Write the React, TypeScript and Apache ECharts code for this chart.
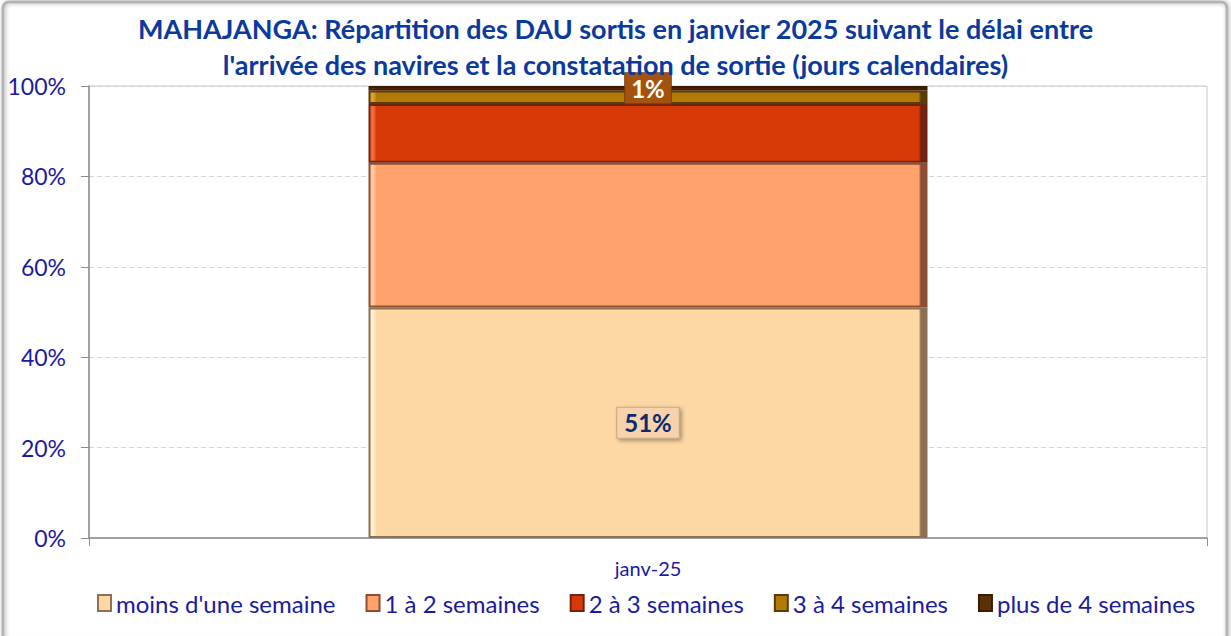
import React, { useEffect, useRef } from "react";
import * as echarts from "echarts";

const titleLines = [
  "MAHAJANGA: Répartition des DAU sortis en janvier 2025 suivant le délai entre",
  "l'arrivée des navires et la constatation de sortie (jours calendaires)",
];
const categories = ["janv-25"];
const seriesNames = [
  "moins d'une semaine",
  "1 à 2 semaines",
  "2 à 3 semaines",
  "3 à 4 semaines",
  "plus de 4 semaines",
];
const moinsUneSemaine = [51];
const unADeuxSemaines = [32];
const deuxATroisSemaines = [13];
const troisAQuatreSemaines = [3];
const plusDeQuatreSemaines = [1];
const yTicks = [0, 20, 40, 60, 80, 100];

const seriesValues = [
  moinsUneSemaine,
  unADeuxSemaines,
  deuxATroisSemaines,
  troisAQuatreSemaines,
  plusDeQuatreSemaines,
];
const baseColors = ["#FDD8A4", "#FFA26C", "#D83A07", "#B27A06", "#5C3006"];
const lightColors = ["#FFEFD0", "#FFC9A0", "#F26A3A", "#D8A030", "#7A4A1A"];
const darkColors = ["#8C7050", "#8E4E34", "#6E2410", "#5A3A06", "#3A1C02"];
const labelShown = [true, false, false, false, true];

function bevel(i: number) {
  return new echarts.graphic.LinearGradient(0, 0, 1, 0, [
    { offset: 0, color: lightColors[i] },
    { offset: 0.008, color: lightColors[i] },
    { offset: 0.012, color: baseColors[i] },
    { offset: 0.986, color: baseColors[i] },
    { offset: 0.99, color: darkColors[i] },
    { offset: 1, color: darkColors[i] },
  ]);
}

export default function App() {
  const ref = useRef<HTMLDivElement>(null);
  useEffect(() => {
    if (!ref.current) return;
    const chart = echarts.init(ref.current, undefined, { renderer: "svg" });
    const labelStyles: any[] = [
      {
        color: "#0C2A6E",
        fontSize: 24,
        fontWeight: "bold",
        fontFamily: "Lato",
        backgroundColor: "#F6D3AD",
        borderColor: "#C8A888",
        borderWidth: 1,
        padding: [4, 7, 2, 7],
        shadowColor: "rgba(0,0,0,0.35)",
        shadowBlur: 4,
        shadowOffsetX: 2,
        shadowOffsetY: 2,
      },
      null,
      null,
      null,
      {
        color: "#FFFFFF",
        fontSize: 24,
        fontWeight: "bold",
        fontFamily: "Lato",
        backgroundColor: "#A5520E",
        borderColor: "#7A3A08",
        borderWidth: 1,
        padding: [4, 6, 2, 6],
      },
    ];
    const series = seriesNames.map((name, i) => ({
      name,
      type: "bar",
      stack: "total",
      barWidth: "50%",
      data: seriesValues[i],
      itemStyle: {
        color: bevel(i),
        borderColor: darkColors[i],
        borderWidth: 2,
      },
      label: labelShown[i]
        ? {
            show: true,
            position: "inside",
            formatter: (p: any) => `${Math.round(p.value)}%`,
            ...labelStyles[i],
          }
        : { show: false },
    }));
    chart.setOption({
      animation: false,
      backgroundColor: "#FFFFFF",
      textStyle: { fontFamily: "Lato" },
      title: {
        text: titleLines.join("\n"),
        left: "center",
        top: 5,
        textStyle: {
          color: "#0B3A9C",
          fontSize: 27,
          fontWeight: "bold",
          fontFamily: "Lato",
          lineHeight: 36,
        },
      },
      grid: { left: 89, right: 24, top: 86, bottom: 98, containLabel: false, show: true, borderColor: "#C8C8C8", borderWidth: 1 },
      legend: {
        bottom: 16,
        left: 92,
        itemWidth: 13,
        itemHeight: 16,
        itemGap: 30,
        icon: "rect",
        textStyle: { color: "#1A1AA0", fontSize: 24, fontFamily: "Lato", padding: [0, 0, 0, 0] },
        data: seriesNames,
      },
      xAxis: {
        type: "category",
        data: categories,
        axisLine: { lineStyle: { color: "#8C8C8C", width: 1.5 } },
        axisTick: { show: true, length: 8, lineStyle: { color: "#8C8C8C" } },
        axisLabel: { color: "#1A1AA0", fontSize: 20, margin: 20, fontFamily: "Lato" },
      },
      yAxis: {
        type: "value",
        min: 0,
        max: 100,
        interval: 20,
        axisLine: { show: true, lineStyle: { color: "#8C8C8C", width: 1.5 } },
        axisTick: { show: true, length: 8, inside: false, lineStyle: { color: "#8C8C8C" } },
        axisLabel: {
          color: "#1A1AA0",
          fontSize: 23,
          margin: 23,
          fontFamily: "Lato",
          formatter: (v: number) => (yTicks.includes(v) ? `${v}%` : ""),
        },
        splitLine: { show: true, lineStyle: { color: "#D4D4D4", type: [5, 3] } },
      },
      graphic: [
        {
          type: "rect",
          silent: true,
          z: 100,
          shape: { x: 3, y: 2, width: 1224, height: 640, r: 6 },
          style: {
            fill: "none",
            stroke: "#B4B4B4",
            lineWidth: 3,
            shadowColor: "rgba(0,0,0,0.3)",
            shadowBlur: 4,
            shadowOffsetX: 1,
          },
        },
      ],
      series,
    });
    return () => chart.dispose();
  }, []);
  return (
    <div
      ref={ref}
      style={{ position: "fixed", left: 0, top: 0, width: 1231, height: 636 }}
    />
  );
}
